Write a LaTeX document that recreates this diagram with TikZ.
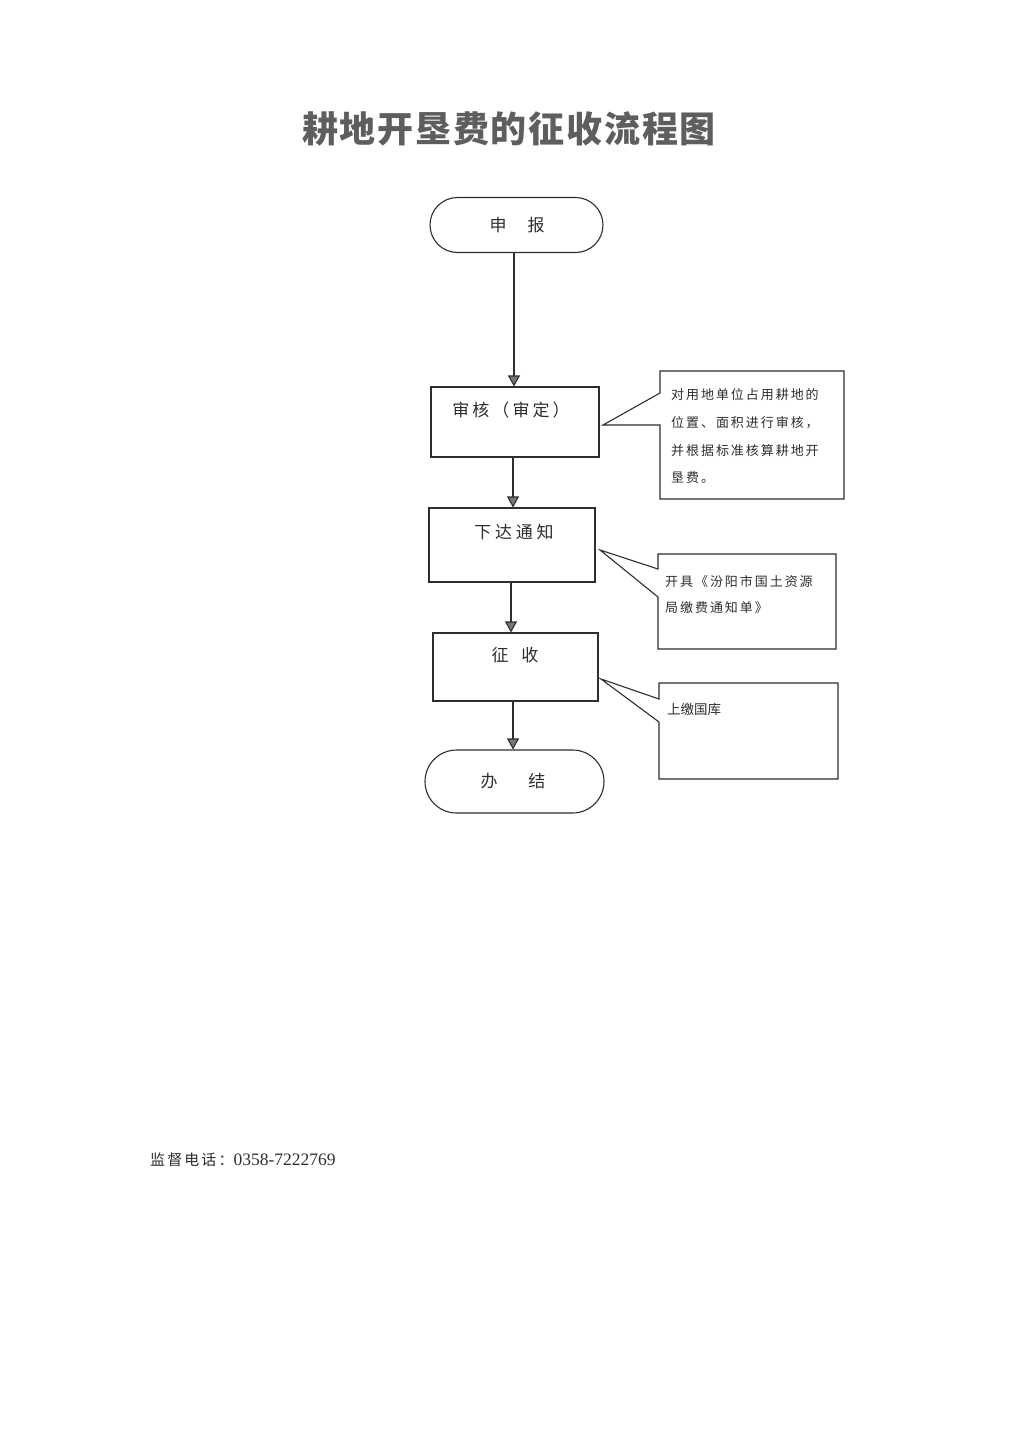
\documentclass[tikz,border=0pt]{standalone}
\usepackage{fontspec}
\newfontfamily\cjk{Noto Sans CJK SC}
\newfontfamily\numfont{Liberation Serif}
\usetikzlibrary{arrows.meta,shapes.misc}
\definecolor{ink}{HTML}{2E2E2E}
\definecolor{titlegray}{HTML}{5E5E5E}
\definecolor{headfill}{HTML}{777777}
\begin{document}
\begin{tikzpicture}[x=1pt,y=-1pt,
  line/.style={draw=ink, line width=1.1pt},
  term/.style={line, rounded rectangle, rounded rectangle arc length=180, inner sep=0pt},
  procbox/.style={line, rectangle, inner sep=0pt},
  arr/.style={draw=ink, line width=1.1pt, -{Triangle[length=11pt,width=12pt,fill=headfill]}},
  boxtext/.style={text=ink, inner sep=0pt, font=\cjk\fontsize{17}{20}\selectfont},
  notetext/.style={text=ink, inner sep=0pt, anchor=west, font=\cjk\fontsize{13}{15}\selectfont\addfontfeature{LetterSpace=15}},
]
\useasboundingbox (0,0) rectangle (1024,1448);
\fill[white] (0,0) rectangle (1024,1448);

% title
\node[text=titlegray, inner sep=0pt, font=\cjk\bfseries\fontsize{36}{40}\selectfont\addfontfeature{LetterSpace=5}] (title) at (509,129) {耕地开垦费的征收流程图};

% terminals and boxes
\node[term, minimum width=173pt, minimum height=55pt] (start) at (516.5,225) {};
\node[boxtext] (startlbl) at (517,225) {申\hspace{21pt}报};

\node[procbox, minimum width=168pt, minimum height=70pt] (audit) at (515,422) {};
\node[boxtext, font=\cjk\fontsize{17}{20}\selectfont\addfontfeature{LetterSpace=18}] (auditlbl) at (511,410) {审核（审定）};

\node[procbox, minimum width=166pt, minimum height=74pt] (notice) at (512,545) {};
\node[boxtext, font=\cjk\fontsize{17}{20}\selectfont\addfontfeature{LetterSpace=22}] (noticelbl) at (514,532) {下达通知};

\node[procbox, minimum width=165pt, minimum height=68pt] (collect) at (515.5,667) {};
\node[boxtext] (collectlbl) at (515,655) {征\hspace{13pt}收};

\node[term, minimum width=179pt, minimum height=63pt] (finish) at (514.5,781.5) {};
\node[boxtext] (finishlbl) at (513,781) {办\hspace{31pt}结};

% arrows
\draw[arr] (start.south -| 514,0) -- (audit.north -| 514,0);
\draw[arr] (audit.south -| 513,0) -- (notice.north -| 513,0);
\draw[arr] (notice.south -| 511,0) -- (collect.north -| 511,0);
\draw[arr] (collect.south -| 513,0) -- (finish.north -| 513,0);

% callout 1
\draw[line, fill=white] (660,371) -- (844,371) -- (844,499) -- (660,499) -- (660,425) -- (603,425) -- (660,393) -- cycle;
\node[notetext] (n1a) at (671,395) {对用地单位占用耕地的};
\node[notetext] (n1b) at (671,423) {位置、面积进行审核，};
\node[notetext] (n1c) at (671,451) {并根据标准核算耕地开};
\node[notetext] (n1d) at (671,478) {垦费。};

% callout 2
\draw[line, fill=white] (658,554) -- (836,554) -- (836,649) -- (658,649) -- (658,597) -- (600,550) -- (658,569) -- cycle;
\node[notetext] (n2a) at (665,582) {开具《汾阳市国土资源};
\node[notetext] (n2b) at (665,608) {局缴费通知单》};

% callout 3
\draw[line, fill=white] (659,683) -- (838,683) -- (838,779) -- (659,779) -- (659,722) -- (601,679) -- (659,699) -- cycle;
\node[notetext, font=\cjk\fontsize{13.5}{15}\selectfont] (n3a) at (667,709) {上缴国库};

% footer
\node[text=ink, inner sep=0pt, anchor=west] (phone) at (150,1160) {{\cjk\fontsize{15}{18}\selectfont\addfontfeature{LetterSpace=14}监督电话：}{\numfont\fontsize{17.5}{18}\selectfont 0358-7222769}};
\end{tikzpicture}
\end{document}
